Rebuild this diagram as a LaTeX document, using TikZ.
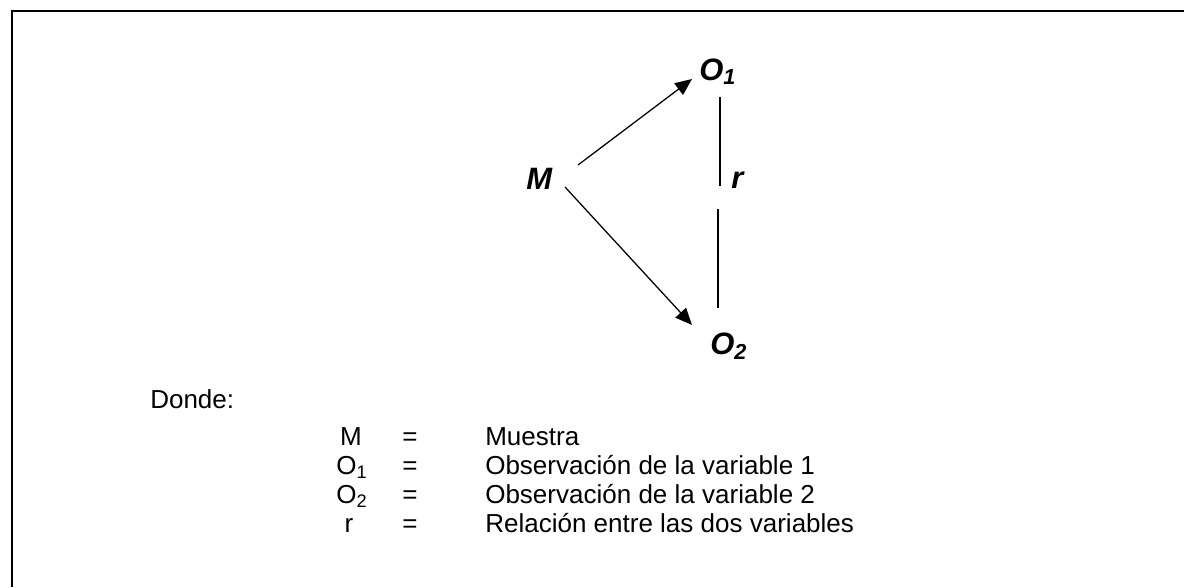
\documentclass[tikz,border=0pt]{standalone}
\usepackage{fontspec}
\setmainfont{Liberation Sans}
\usetikzlibrary{arrows.meta}

\begin{document}
\begin{tikzpicture}[
    x=0.025cm, y=-0.025cm,
    var/.style={font=\fontsize{22}{26}\selectfont\bfseries\itshape, inner sep=0pt, anchor=base west},
    legend/.style={font=\fontsize{18.5}{22}\selectfont, inner sep=0pt, anchor=base},
    arrow/.style={-{Triangle[length=0.42cm, width=0.36cm]}, line width=0.9pt},
    link/.style={line width=0.9pt}
]
    \useasboundingbox (0,0) rectangle (1184,587);

    % frame
    \draw[line width=1.45pt] (1184,11) -| (12,587);

    % variables
    \node[var] (M) at (526,189) {M};
    \node[var] (O1) at (699,80) {O\textsubscript{1}};
    \node[var] (O2) at (710,354) {O\textsubscript{2}};
    \node[var] (r) at (731,188) {r};
    \coordinate (rtop) at (720,186);
    \coordinate (rbot) at (718,209);

    % arrows
    \draw[arrow] ([shift={(52,-24)}]M.base west) -- ([shift={(-7,-1)}]O1.base west);
    \draw[arrow] ([shift={(39,-2)}]M.base west) -- ([shift={(-18,-29)}]O2.base west);

    % correlation
    \draw[link] ([shift={(21,17)}]O1.base west) -- (rtop);
    \draw[link] (rbot) -- ([shift={(8,-46)}]O2.base west);

    % legend
    \node[legend, anchor=base west] (donde) at (150,408) {Donde:};

    \node[legend] (sM) at (351,445) {M};
    \node[legend] (eM) at (410,445) {=};
    \node[legend, anchor=base west] (dM) at (485,445) {Muestra};

    \node[legend] (sO1) at (352,474) {O\textsubscript{1}};
    \node[legend] (eO1) at (410,474) {=};
    \node[legend, anchor=base west] (dO1) at (485,474) {Observación de la variable 1};

    \node[legend] (sO2) at (352,503) {O\textsubscript{2}};
    \node[legend] (eO2) at (410,503) {=};
    \node[legend, anchor=base west] (dO2) at (485,503) {Observación de la variable 2};

    \node[legend] (sr) at (349,532) {r};
    \node[legend] (er) at (410,532) {=};
    \node[legend, anchor=base west] (dr) at (485,532) {Relación entre las dos variables};

\end{tikzpicture}
\end{document}
